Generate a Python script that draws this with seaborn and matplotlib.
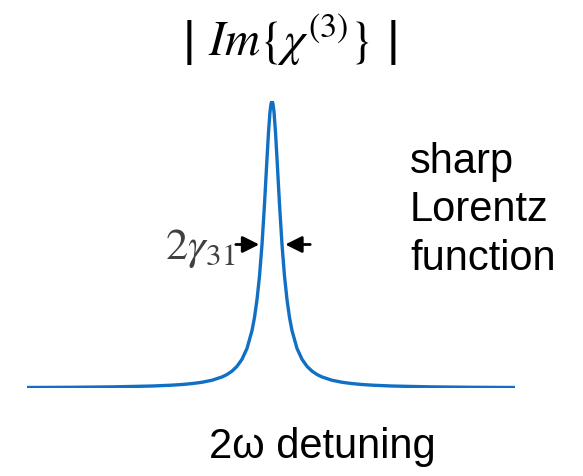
import matplotlib
matplotlib.use("Agg")
import seaborn as sns
import matplotlib.pyplot as plt

# detuning in units of gamma_31
detuning = [-24.5, -20, -16, -12, -10, -9, -8, -7, -6, -5, -4.5, -4, -3.5, -3, -2.5,
            -2, -1.75, -1.5, -1.25, -1, -0.75, -0.5, -0.35, -0.2, -0.1, 0, 0.1, 0.2,
            0.35, 0.5, 0.75, 1, 1.25, 1.5, 1.75, 2, 2.5, 3, 3.5, 4, 4.5, 5, 6, 7, 8,
            9, 10, 12, 16, 20, 24.3]
# |Im chi3| normalised to the peak
im_chi3 = [0.0017, 0.0025, 0.0039, 0.0069, 0.0099, 0.0122, 0.0154, 0.020, 0.027,
           0.0385, 0.047, 0.0588, 0.0755, 0.10, 0.138, 0.20, 0.246, 0.308, 0.390,
           0.50, 0.64, 0.80, 0.891, 0.962, 0.990, 1.0, 0.990, 0.962, 0.891, 0.80,
           0.64, 0.50, 0.390, 0.308, 0.246, 0.20, 0.138, 0.10, 0.0755, 0.0588,
           0.047, 0.0385, 0.027, 0.020, 0.0154, 0.0122, 0.0099, 0.0069, 0.0039,
           0.0025, 0.0017]

sns.set_style("white")
plt.rcParams["mathtext.fontset"] = "stix"
plt.rcParams["font.family"] = ["Liberation Sans", "DejaVu Sans"]
plt.rcParams["text.color"] = "black"

fig = plt.figure(figsize=(5.83, 4.77), dpi=100)
ax = fig.add_axes([27 / 583, 88 / 477, 488 / 583, 287 / 477])
sns.lineplot(x=detuning, y=im_chi3, ax=ax, color="#1170C4", linewidth=2.4)
ax.set_xlim(-24.5, 24.3)
ax.set_ylim(0, 1)
ax.axis("off")

# FWHM arrows
ax.annotate("", xy=(-1.0, 0.5), xytext=(-3.9, 0.5),
            arrowprops=dict(arrowstyle="-|>", color="black", lw=2, mutation_scale=25))
ax.annotate("", xy=(1.05, 0.5), xytext=(4.1, 0.5),
            arrowprops=dict(arrowstyle="-|>", color="black", lw=2, mutation_scale=25))
ax.text(-3.7, 0.49, r"$2\gamma_{31}$", ha="right", va="center", fontsize=32,
        color="#404040")

fig.text(290 / 583, 1 - 40 / 477, r"| $Im\{\chi^{(3)}\}$ |", ha="center",
         va="center", fontsize=35)
# multi-line baseline alignment uses the last line
fig.text(410 / 583, 1 - 270 / 477, "sharp\nLorentz\nfunction", ha="left",
         va="baseline", fontsize=30, linespacing=1.28)
fig.text(322 / 583, 1 - 458 / 477, "2ω detuning", ha="center", va="baseline",
         fontsize=30)

fig.savefig("out.png", dpi=100)
